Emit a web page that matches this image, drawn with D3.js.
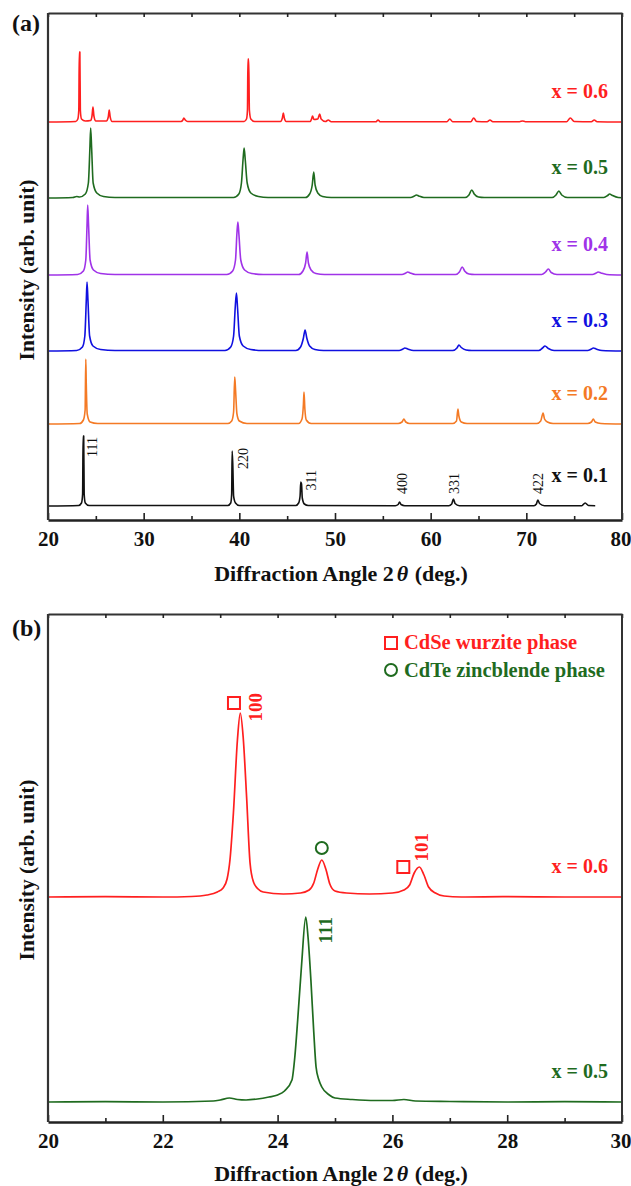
<!DOCTYPE html>
<html>
<head>
<meta charset="utf-8">
<script src="https://cdn.jsdelivr.net/npm/d3@7"></script>
<style>
  body { margin: 0; background: #fff; }
  svg { display: block; font-family: "Liberation Serif", "Times New Roman", serif; }
</style>
</head>
<body>
<svg id="chart" width="631" height="1186"></svg>
<script>
// ---- panel (a) data: 2theta (deg) vs intensity above each trace's baseline (arb.)
var seriesLabelsA = ["x = 0.1", "x = 0.2", "x = 0.3", "x = 0.4", "x = 0.5", "x = 0.6"];
var offsetsA = [14, 96, 169, 245, 322, 398];

var xrdA01 = [[20,0],[23.2,0.5],[23.5,3],[23.62,12],[23.67,70],[23.73,70],[23.78,12],[23.9,3],[24.3,0.5],
  [38.8,0.5],[39.1,3],[39.2,12],[39.25,55],[39.32,40],[39.4,10],[39.6,3],[40.0,0.5],
  [45.9,0.5],[46.2,3],[46.35,10],[46.42,24],[46.5,22],[46.58,8],[46.8,2],[47.2,0.5],
  [56.3,0.3],[56.6,1.5],[56.75,4],[56.9,1.5],[57.3,0.3],
  [61.9,0.3],[62.2,2],[62.38,7],[62.55,2.5],[63.0,0.3],
  [70.8,0.3],[71.05,2],[71.2,6],[71.38,2.5],[71.9,0.3],
  [75.8,0.3],[76.15,3],[76.5,0.5],[77.2,0.3]];

var xrdA02 = [[20,0],[23.3,0.5],[23.7,4],[23.88,14],[23.95,65],[24.0,40],[24.1,10],[24.4,2],[25.2,0.5],
  [38.8,0.5],[39.2,3],[39.4,12],[39.52,47],[39.6,35],[39.75,10],[40.0,3],[40.8,0.5],
  [46.2,0.5],[46.55,5],[46.7,20],[46.76,32],[46.85,15],[47.0,4],[47.5,0.5],
  [56.6,0.5],[57.0,2],[57.2,5],[57.4,2],[57.8,0.5],
  [62.3,0.5],[62.7,3],[62.85,15],[62.95,8],[63.2,2],[63.8,0.5],
  [71.1,0.5],[71.5,3],[71.75,11],[71.9,5],[72.2,2],[72.8,0.5],
  [76.4,0.5],[76.8,2],[77.0,5],[77.2,2],[77.8,0.5],[80,0]];

var xrdA03 = [[20,0],[23.0,0.5],[23.6,4],[23.85,15],[24.0,50],[24.08,69],[24.18,50],[24.35,15],[24.7,5],[25.5,1.5],[27,0.5],
  [38.5,0.5],[39.1,4],[39.4,15],[39.58,45],[39.7,58],[39.82,42],[40.0,15],[40.4,5],[41.2,1.5],[42.5,0.5],
  [45.9,0.5],[46.4,4],[46.7,13],[46.87,21],[47.05,13],[47.35,5],[47.9,1.5],[48.8,0.5],
  [56.7,0.5],[57.1,2],[57.3,3],[57.6,2],[58.2,0.5],
  [62.3,0.5],[62.75,3],[62.95,6],[63.2,3.5],[63.7,1],[64.3,0.5],
  [71.3,0.5],[71.7,3],[71.95,5],[72.3,2.5],[72.9,0.5],
  [76.4,0.5],[76.8,2],[77.0,3],[77.3,2],[77.9,0.5],[80,0]];

var xrdA04 = [[20,0],[23.1,0.5],[23.7,4],[23.95,15],[24.08,50],[24.15,70],[24.24,50],[24.4,15],[24.75,5],[25.5,1.5],[27,0.5],
  [38.7,0.5],[39.3,4],[39.6,15],[39.75,42],[39.85,53],[39.96,40],[40.15,15],[40.55,5],[41.3,1.5],[42.5,0.5],
  [46.2,0.5],[46.65,4],[46.93,12],[47.08,23],[47.22,12],[47.5,5],[48.0,1.5],[48.9,0.5],
  [57.0,0.5],[57.4,2],[57.6,3],[57.85,2],[58.4,0.5],
  [62.6,0.5],[63.0,3],[63.3,8],[63.55,4],[64.0,1],[64.6,0.5],
  [71.6,0.5],[72.0,3],[72.3,6],[72.6,2.5],[73.2,0.5],
  [76.9,0.5],[77.3,2],[77.5,3],[77.8,2],[78.4,0.5],[80,0]];

var xrdA05 = [[20,0],[22.6,0.5],[23.0,1.5],[23.3,1],[23.9,4],[24.22,15],[24.38,50],[24.46,70],[24.56,50],[24.72,15],[25.1,5],[25.8,1.5],[27,0.5],
  [39.4,0.5],[39.95,4],[40.22,15],[40.4,40],[40.5,50],[40.62,38],[40.82,15],[41.2,5],[42.0,1.5],[43,0.5],
  [46.9,0.5],[47.35,4],[47.62,13],[47.78,26],[47.92,13],[48.2,5],[48.7,1.5],[49.6,0.5],
  [57.9,0.5],[58.3,2],[58.5,3],[58.75,2],[59.3,0.5],
  [63.6,0.5],[64.0,3],[64.3,8],[64.55,4],[65.0,1],[65.6,0.5],
  [72.7,0.5],[73.1,3],[73.4,7],[73.7,3],[74.3,0.5],
  [78.1,0.5],[78.5,2.5],[78.7,4],[79.0,2.5],[79.6,0.5],[80,0.3]];

var xrdA06 = [[20,0],[22.9,0.5],[23.12,3],[23.22,12],[23.27,70],[23.33,70],[23.38,12],[23.5,3],[23.9,1],
  [24.45,1.5],[24.6,6],[24.7,15],[24.8,6],[25.0,1],[26.1,1],[26.3,5],[26.4,12],[26.5,5],[26.7,0.5],
  [33.9,0.5],[34.1,2],[34.2,4],[34.35,2],[34.6,0.5],
  [40.5,0.5],[40.75,3],[40.85,12],[40.9,63],[40.98,63],[41.05,12],[41.2,3],[41.6,0.5],
  [44.3,0.5],[44.5,4],[44.6,9],[44.7,4],[44.9,0.5],
  [47.4,0.5],[47.55,3],[47.65,6],[47.8,2.5],[48.2,3],[48.4,8],[48.55,3],[49.0,0.5],[49.3,2],[49.6,0.3],
  [54.3,0.3],[54.5,2],[54.7,0.3],
  [61.7,0.3],[62.0,3],[62.3,0.3],
  [64.2,0.3],[64.5,4],[64.8,0.5],[65.9,0.3],[66.2,2],[66.5,0.3],
  [69.3,0.3],[69.6,1],[69.9,0.3],
  [74.2,0.3],[74.6,4],[75.0,0.5],[76.8,0.3],[77.1,2],[77.4,0.3],[80,0]];

var tracesA = [xrdA01, xrdA02, xrdA03, xrdA04, xrdA05, xrdA06];

// hkl indices of the x = 0.1 pattern: label, anchor angle, anchor intensity
var hklTextA = ["111", "220", "311", "400", "331", "422"];
var hklAngleA = [25.12, 40.9, 48.0, 57.5, 62.96, 71.74];
var hklLevelA = [83, 72, 50, 47, 47, 47];

// ---- panel (b) data
var seriesLabelsB = ["x = 0.5", "x = 0.6"];
var offsetsB = [20, 225];

var xrdB05 = [[20,0],[21,0.3],[22,0],[22.88,1],[23.0,2],[23.16,4],[23.3,2.5],[23.45,2],[23.65,3],[23.85,5],
  [24.0,7],[24.12,11],[24.25,22],[24.3,45],[24.35,82],[24.42,139],[24.49,185],[24.53,165],[24.58,122],
  [24.63,70],[24.67,35],[24.72,22],[24.77,15],[24.9,7],[25.0,4],[25.3,2.5],[25.7,1.5],[26.0,1.5],
  [26.2,2.5],[26.4,1],[27,0.5],[28,0],[29,0.3],[30,0]];

var xrdB06 = [[20,0],[21,0.3],[22,0],[22.5,0.5],[22.77,2],[22.95,5],[23.05,9],[23.12,18],[23.17,37],
  [23.23,84],[23.3,157],[23.35,184],[23.4,160],[23.46,100],[23.52,34],[23.58,15],[23.66,8],[23.75,5],
  [24.1,3],[24.4,4],[24.55,7],[24.63,14],[24.7,28],[24.77,37],[24.84,28],[24.91,13],[25.0,6],[25.2,4],
  [25.6,3],[26.0,4],[26.2,7],[26.3,12],[26.38,24],[26.47,30],[26.55,22],[26.63,10],[26.75,4],[26.9,1],
  [27.2,0],[28,0.3],[29,0],[30,0]];

var tracesB = [xrdB05, xrdB06];

// phase markers: square = CdSe wurzite, circle = CdTe zincblende
var squareAngles = [23.24, 26.19];
var squareLevels = [419, 255];
var circleAngles = [24.77];
var circleLevels = [274];

var hklTextB = ["100", "101", "111"];
var hklAngleB = [23.73, 26.62, 24.95];
var hklLevelB = [429, 289, 205];

var legendText = ["CdSe wurzite phase", "CdTe zincblende phase"];

// ---- styles
var colorsA = ["#111111", "#f47a25", "#1010e0", "#a033e8", "#1f6b1f", "#ff1f1f"];
var colorsB = ["#1f6b1f", "#ff1f1f"];
var hklColorsB = ["#ff1f1f", "#ff1f1f", "#1f6b1f"];

var svg = d3.select("#chart");
var left = 48, right = 622;

function drawFrame(g, x, y, top, bottom, majors, minors) {
    // bottom axis, ticks pointing inward
    g.append("g")
        .attr("transform", "translate(0," + bottom + ")")
        .call(d3.axisBottom(x).tickValues(majors).tickSizeInner(-7).tickSizeOuter(0).tickPadding(11.5).tickFormat(d3.format("d")))
        .call(function (a) {
            a.select(".domain").attr("stroke", "#222").attr("stroke-width", 2.4);
            a.selectAll(".tick line").attr("stroke", "#222").attr("stroke-width", 1.6);
            a.selectAll("text").attr("fill", "#111").attr("font-size", 21).attr("font-weight", "bold")
                .attr("font-family", "Liberation Serif, serif");
            // last label sits at the page edge: keep it inside
            a.selectAll(".tick").filter(function (d, i, n) { return i === n.length - 1; })
                .select("text").attr("text-anchor", "end").attr("x", 9);
        });
    g.append("g")
        .attr("transform", "translate(0," + bottom + ")")
        .call(d3.axisBottom(x).tickValues(minors).tickSizeInner(-4).tickSizeOuter(0).tickFormat(""))
        .call(function (a) {
            a.select(".domain").remove();
            a.selectAll(".tick line").attr("stroke", "#222").attr("stroke-width", 1.6);
        });
    // top axis
    g.append("g")
        .attr("transform", "translate(0," + top + ")")
        .call(d3.axisTop(x).tickValues(majors.concat(minors)).tickSizeInner(-4).tickSizeOuter(0).tickFormat(""))
        .call(function (a) {
            a.select(".domain").attr("stroke", "#333").attr("stroke-width", 2);
            a.selectAll(".tick line").attr("stroke", "#222").attr("stroke-width", 1.6);
        });
    g.append("line").attr("x1", left).attr("x2", left).attr("y1", top).attr("y2", bottom)
        .attr("stroke", "#333").attr("stroke-width", 2.2);
    g.append("line").attr("x1", right).attr("x2", right).attr("y1", top).attr("y2", bottom)
        .attr("stroke", "#333").attr("stroke-width", 2);
}

function axisTitles(g, bottomTitleY, yLabelCenter) {
    var t = g.append("text")
        .attr("x", 341).attr("y", bottomTitleY)
        .attr("text-anchor", "middle")
        .attr("font-size", 22).attr("font-weight", "bold").attr("fill", "#111");
    t.append("tspan").text("Diffraction Angle 2");
    t.append("tspan").attr("font-style", "italic").attr("dx", 3).text("\u03b8");
    t.append("tspan").attr("dx", 1).text(" (deg.)");

    g.append("text")
        .attr("transform", "translate(34," + yLabelCenter + ") rotate(-90)")
        .attr("text-anchor", "middle")
        .attr("font-size", 21.5).attr("font-weight", "bold").attr("fill", "#111")
        .text("Intensity (arb. unit)");
}

function rotatedLabel(g, px, py, txt, size, weight, color) {
    g.append("text")
        .attr("transform", "translate(" + px + "," + py + ") rotate(-90)")
        .attr("text-anchor", "end")
        .attr("font-size", size).attr("font-weight", weight).attr("fill", color)
        .text(txt);
}

// ================= panel (a)
var topA = 13, bottomA = 520;
var xA = d3.scaleLinear().domain([20, 80]).range([left, right]);
var yA = d3.scaleLinear().domain([0, 507]).range([bottomA, topA]);
var gA = svg.append("g");

tracesA.forEach(function (trace, i) {
    var line = d3.line()
        .x(function (d) { return xA(d[0]); })
        .y(function (d) { return yA(d[1] + offsetsA[i]); })
        .curve(d3.curveMonotoneX);
    gA.append("path").datum(trace)
        .attr("d", line)
        .attr("fill", "none")
        .attr("stroke", colorsA[i])
        .attr("stroke-width", 1.6)
        .attr("stroke-linejoin", "round");

    gA.append("text")
        .attr("x", right - 14)
        .attr("y", yA(offsetsA[i]) - 24)
        .attr("text-anchor", "end")
        .attr("font-size", 20).attr("font-weight", "bold")
        .attr("fill", colorsA[i])
        .text(seriesLabelsA[i]);
});

hklTextA.forEach(function (t, i) {
    rotatedLabel(gA, xA(hklAngleA[i]), yA(hklLevelA[i]), t, 14, "normal", "#111");
});

drawFrame(gA, xA, yA, topA, bottomA, d3.range(20, 81, 10), d3.range(25, 80, 10));
axisTitles(gA, 581, 270);

gA.append("text").attr("x", 12).attr("y", 31)
    .attr("font-size", 24).attr("font-weight", "bold").attr("fill", "#111")
    .text("(a)");

// ================= panel (b)
var topB = 614, bottomB = 1122;
var xB = d3.scaleLinear().domain([20, 30]).range([left, right]);
var yB = d3.scaleLinear().domain([0, 508]).range([bottomB, topB]);
var gB = svg.append("g");

tracesB.forEach(function (trace, i) {
    var line = d3.line()
        .x(function (d) { return xB(d[0]); })
        .y(function (d) { return yB(d[1] + offsetsB[i]); })
        .curve(d3.curveMonotoneX);
    gB.append("path").datum(trace)
        .attr("d", line)
        .attr("fill", "none")
        .attr("stroke", colorsB[i])
        .attr("stroke-width", 1.7)
        .attr("stroke-linejoin", "round");

    gB.append("text")
        .attr("x", right - 14)
        .attr("y", yB(offsetsB[i]) - 24)
        .attr("text-anchor", "end")
        .attr("font-size", 20).attr("font-weight", "bold")
        .attr("fill", colorsB[i])
        .text(seriesLabelsB[i]);
});

squareAngles.forEach(function (a, i) {
    gB.append("rect")
        .attr("x", xB(a) - 6).attr("y", yB(squareLevels[i]) - 6)
        .attr("width", 12).attr("height", 12)
        .attr("fill", "none").attr("stroke", "#ff1f1f").attr("stroke-width", 2);
});
circleAngles.forEach(function (a, i) {
    gB.append("circle")
        .attr("cx", xB(a)).attr("cy", yB(circleLevels[i])).attr("r", 6)
        .attr("fill", "none").attr("stroke", "#1f6b1f").attr("stroke-width", 2);
});

hklTextB.forEach(function (t, i) {
    rotatedLabel(gB, xB(hklAngleB[i]), yB(hklLevelB[i]), t, 19, "bold", hklColorsB[i]);
});

// legend
gB.append("rect").attr("x", 385).attr("y", 637).attr("width", 12).attr("height", 12)
    .attr("fill", "none").attr("stroke", "#ff1f1f").attr("stroke-width", 2);
gB.append("text").attr("x", 404).attr("y", 649)
    .attr("font-size", 20.5).attr("font-weight", "bold").attr("fill", "#ff1f1f")
    .text(legendText[0]);
gB.append("circle").attr("cx", 391).attr("cy", 670).attr("r", 6)
    .attr("fill", "none").attr("stroke", "#1f6b1f").attr("stroke-width", 2);
gB.append("text").attr("x", 404).attr("y", 677)
    .attr("font-size", 20.5).attr("font-weight", "bold").attr("fill", "#1f6b1f")
    .text(legendText[1]);

drawFrame(gB, xB, yB, topB, bottomB, d3.range(20, 31, 2), d3.range(21, 30, 2));
axisTitles(gB, 1181, 870);

gB.append("text").attr("x", 12).attr("y", 636)
    .attr("font-size", 24).attr("font-weight", "bold").attr("fill", "#111")
    .text("(b)");
</script>
</body>
</html>
